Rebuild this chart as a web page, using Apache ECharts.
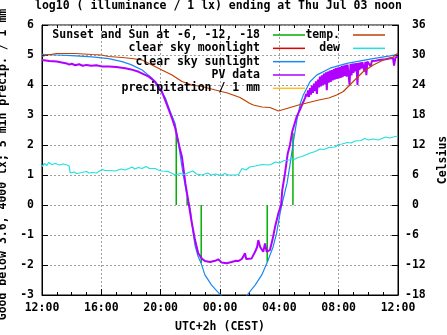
<!DOCTYPE html>
<html><head><meta charset="utf-8">
<script src="https://cdn.jsdelivr.net/npm/echarts@6/dist/echarts.min.js"></script>
<style>html,body{margin:0;padding:0;background:#fff}#c{width:447px;height:335px}</style>
</head><body><div id="c"></div>
<script>
// ---------- data ----------
const titleText = 'log10 ( illuminance / 1 lx) ending at Thu Jul 03 noon';
const xTickLabels = ['12:00', '16:00', '20:00', '00:00', '04:00', '08:00', '12:00'];
const leftAxisName = 'Good below 3.6, 4000 lx; 5 min precip. / 1 mm';
const rightAxisName = 'Celsius';
const xAxisName = 'UTC+2h (CEST)';

// sunset and sun at -6, -12, -18 (impulses)
const sunTimes   = ['21:03', '21:47', '22:44', '03:11', '04:11', '04:55'];
const sunHeights = [2.4, 0.25, -1.93, -1.9, 0.15, 2.4];

// clear sky moonlight (not above horizon in this window)
const moonTimes = [];
const moonValues = [];

// clear sky sunlight, log10 lx
const sunlightTimes = ['12:00','13:00','14:00','15:22','16:30','17:24','18:00','18:45','19:25','19:52','20:19','20:39','20:59','21:13','21:26','21:37','21:47','22:00','22:10','22:19','22:31','22:43','22:59','23:26','00:00','00:30','01:00','01:30','01:50','02:22','02:49','03:15','03:35','03:49','04:03','04:10','04:31','04:44','04:58','05:11','05:25','05:37','06:04','06:31','07:25','08:33','10:07','11:28','12:00'];
const sunlightValues = [5.02,5.00,4.98,4.94,4.88,4.78,4.68,4.50,4.23,3.89,3.57,3.11,2.70,2.00,1.28,0.75,0.28,-0.15,-0.85,-1.35,-1.70,-1.93,-2.33,-2.67,-2.98,-3.25,-3.40,-3.20,-3.00,-2.67,-2.33,-1.83,-1.39,-0.94,-0.28,0.00,0.72,1.39,2.17,2.83,3.39,3.67,4.11,4.33,4.56,4.72,4.86,4.97,5.02];

// PV data, log10 lx
const pvTimes = ['12:00','12:30','13:00','13:20','13:40','13:50','14:00','14:15','14:30','14:45','15:00','15:20','15:40','16:00','16:30','17:00','17:37','18:00','18:31','19:12','19:38','20:05','20:26','20:46','20:59','21:19','21:26','21:40','21:53','22:05','22:19','22:32','22:46','22:59','23:20','23:40','23:53','00:07','00:27','00:47','01:05','01:14','01:28','01:34','01:41','01:46','01:52','02:08','02:22','02:30','02:35','02:42','02:55','03:02','03:09','03:22','03:32','03:43','03:56','04:07','04:12','04:23','04:34','04:43','04:52','05:10','05:23','05:35','05:44',
 '05:48','05:52','05:56','06:00','06:04','06:08','06:12','06:16','06:20','06:24','06:28','06:32','06:36','06:40','06:44','06:48','06:52','06:56','07:00','07:04','07:08','07:12','07:16','07:20','07:24','07:28','07:32','07:36','07:40','07:44','07:48','07:52','07:56','08:00','08:04','08:08','08:12','08:16','08:20','08:24','08:28','08:32','08:36','08:40','08:44','08:48','08:52','08:56','09:00','09:04','09:08','09:12','09:16','09:20','09:24','09:28','09:32','09:36','09:40','09:44','09:48','09:52','09:56','10:00','10:10','10:14','10:30','10:50','11:10','11:30','11:40','11:44','11:50','12:00'];
const pvValues = [4.83,4.80,4.78,4.75,4.72,4.68,4.71,4.66,4.69,4.64,4.67,4.64,4.66,4.62,4.62,4.60,4.56,4.52,4.44,4.28,4.11,3.78,3.33,2.89,2.56,1.83,1.61,0.72,0.07,-0.55,-1.17,-1.61,-1.78,-1.87,-1.90,-1.86,-1.81,-1.92,-1.94,-1.90,-1.86,-1.87,-1.80,-1.72,-1.61,-1.80,-1.86,-1.78,-1.56,-1.40,-1.17,-1.39,-1.56,-1.28,-1.56,-1.50,-1.17,-0.72,-0.28,0.00,0.50,1.06,1.72,2.00,2.44,2.94,3.17,3.40,3.56,
 3.70,3.62,3.82,3.60,3.90,3.68,3.98,3.74,4.05,3.80,4.12,3.70,4.18,3.92,4.28,3.95,4.32,4.00,4.38,4.02,4.42,3.83,4.45,4.08,4.48,4.10,4.50,4.15,4.53,4.18,4.56,4.20,4.58,4.22,4.60,4.24,4.63,4.26,4.65,4.30,4.67,4.28,4.68,4.35,4.00,4.70,4.32,4.71,4.40,4.72,4.45,4.73,4.00,4.74,4.50,4.75,4.55,4.76,4.76,4.45,4.77,4.33,4.78,4.78,4.62,4.80,4.81,4.84,4.86,4.89,4.90,4.65,4.92,4.94];

// precipitation / 1 mm
const precipTimes = ['12:00', '12:00'];
const precipValues = [0, 0];

// temperature, Celsius
const tempTimes = ['12:00','12:20','13:00','14:15','15:22','16:00','16:30','17:24','18:04','18:45','19:25','20:05','20:46','21:26','22:07','22:47','23:41','00:30','01:21','02:01','02:15','02:50','03:22','03:56','04:30','05:18','05:59','06:39','07:20','07:52','08:19','08:59','09:40','10:20','11:01','11:41','12:00'];
const tempValues = [29.7,30.0,30.3,30.3,30.1,30.0,29.7,29.5,29.3,29.0,28.0,27.0,26.0,24.7,24.0,23.7,23.0,22.4,21.5,20.3,20.0,19.6,19.5,18.8,19.3,20.0,20.5,21.0,21.4,22.0,22.7,24.7,26.7,28.0,29.0,29.6,30.4];

// dew point, Celsius
const dewTimes = ['12:00','12:10','12:20','12:27','12:40','12:54','13:10','13:25','13:41','13:50','13:54','14:10','14:20','14:42','15:00','15:10','15:22','15:40','16:03','16:15','16:30','16:57','17:20','17:35','17:51','18:05','18:15','18:30','18:45','19:00','19:15','19:38','19:50','20:05','20:30','20:59','21:20','21:35','21:53','22:10','22:25','22:47','23:10','23:25','23:41','00:05','00:20','00:35','01:02','01:15','01:29','01:45','02:00','02:23','02:50','03:17','03:30','03:44','04:00','04:20','04:38','05:00','05:15','05:31','05:50','06:05','06:25','06:45','07:00','07:20','07:45','08:00','08:14','08:35','08:50','09:07','09:30','09:45','10:01','10:20','10:40','10:55','11:10','11:25','11:49','12:00'];
const dewValues = [7.7,8.3,7.9,8.5,8.1,8.3,8.0,8.2,8.0,7.8,6.4,6.6,6.3,6.5,6.7,6.4,6.5,6.4,7.1,6.9,6.9,6.8,7.2,7.0,7.3,7.6,7.2,7.5,7.3,7.7,7.3,7.3,7.0,6.8,6.7,6.0,6.3,6.1,6.5,6.8,6.2,6.0,6.4,6.0,6.2,5.9,6.3,6.0,6.0,6.1,7.3,7.0,7.6,7.8,8.1,8.0,8.2,8.6,8.4,8.9,9.0,9.1,9.5,9.7,10.1,10.4,10.7,11.2,11.1,11.5,11.6,12.1,12.2,12.5,12.4,12.8,12.9,13.3,13.0,13.2,13.0,13.3,13.6,13.4,13.7,13.8];

// ---------- helpers ----------
// hours since 12:00 of the first day; keeps each list increasing
function toHours(times) {
  const out = [];
  let prev = -1;
  times.forEach(function (t, i) {
    const p = t.split(':');
    let h = +p[0] + (+p[1]) / 60 - 12;
    if (h < 0) h += 24;
    if (i > 0 && h < prev) h += 24;
    out.push(h);
    prev = h;
  });
  return out;
}
function pairs(times, values) {
  const hs = toHours(times);
  return hs.map(function (h, i) { return [h, values[i]]; });
}

const FONT = 'DejaVu Sans Mono';
const txt = { fontFamily: FONT, fontWeight: 'bold', fontSize: 11.5, color: '#000' };
const gridLine = { show: true, lineStyle: { color: '#a0a0a0', width: 1, type: [2, 2] } };
const blackLine = { show: true, onZero: false, lineStyle: { color: '#000', width: 1 } };

const chart = echarts.init(document.getElementById('c'), null, { renderer: 'canvas' });
chart.setOption({
  animation: false,
  backgroundColor: '#fff',
  title: {
    text: titleText, left: 35, top: 0, padding: 0,
    textStyle: Object.assign({}, txt, { lineHeight: 13 })
  },
  legend: [
    {
      orient: 'vertical', align: 'right', right: 142, top: 28.5, padding: 0,
      itemWidth: 32, itemHeight: 1.5, itemGap: 0.33, icon: 'rect', selectedMode: false,
      textStyle: Object.assign({}, txt, { lineHeight: 13, padding: [0, 8, 0, 0] }),
      data: ['Sunset and Sun at -6, -12, -18', 'clear sky moonlight', 'clear sky sunlight', 'PV data', 'precipitation / 1 mm']
    },
    {
      orient: 'vertical', align: 'right', right: 62, top: 28.5, padding: 0,
      itemWidth: 32, itemHeight: 1.5, itemGap: 0.33, icon: 'rect', selectedMode: false,
      textStyle: Object.assign({}, txt, { lineHeight: 13, padding: [0, 8, 0, 0] }),
      data: ['temp.', 'dew']
    }
  ],
  grid: { left: 42, right: 49, top: 25, bottom: 40, show: true, borderColor: '#000', borderWidth: 1, containLabel: false, outerBoundsMode: 'none' },
  xAxis: [
    {
      type: 'value', min: 0, max: 24, interval: 4, position: 'bottom',
      axisLine: blackLine,
      axisTick: { show: true, inside: true, length: 6, lineStyle: { color: '#000' } },
      minorTick: { show: true, splitNumber: 4, length: 3, lineStyle: { color: '#000' } },
      axisLabel: Object.assign({}, txt, { margin: 7, formatter: function (v) { return xTickLabels[Math.round(v / 4)]; } }),
      splitLine: gridLine,
      name: xAxisName, nameLocation: 'middle', nameGap: 26, nameTextStyle: txt
    },
    {
      type: 'value', min: 0, max: 24, interval: 4, position: 'top',
      axisLine: { show: false, onZero: false },
      axisTick: { show: true, inside: true, length: 6, lineStyle: { color: '#000' } },
      minorTick: { show: true, splitNumber: 4, length: 3, lineStyle: { color: '#000' } },
      axisLabel: { show: false }, splitLine: { show: false }
    }
  ],
  yAxis: [
    {
      type: 'value', min: -3, max: 6, interval: 1, position: 'left',
      axisLine: blackLine,
      axisTick: { show: true, inside: true, length: 6, lineStyle: { color: '#000' } },
      axisLabel: Object.assign({}, txt, { margin: 8 }),
      splitLine: gridLine,
      name: leftAxisName, nameLocation: 'middle', nameRotate: 90, nameGap: 29,
      nameTextStyle: Object.assign({}, txt, { padding: [0, 9, 0, 0] })
    },
    {
      type: 'value', min: -18, max: 36, interval: 6, position: 'right',
      axisLine: blackLine,
      axisTick: { show: true, inside: true, length: 6, lineStyle: { color: '#000' } },
      axisLabel: Object.assign({}, txt, { margin: 7, align: 'left', formatter: function (v) { return v < 0 ? String(v) : ' ' + v; } }),
      splitLine: { show: false },
      name: rightAxisName, nameLocation: 'middle', nameRotate: 90, nameGap: 35, nameTextStyle: txt
    }
  ],
  series: [
    {
      name: 'Sunset and Sun at -6, -12, -18', type: 'bar', xAxisIndex: 0, yAxisIndex: 0,
      barWidth: 1.5, color: '#00b000', itemStyle: { color: '#00b000' },
      data: pairs(sunTimes, sunHeights)
    },
    {
      name: 'clear sky moonlight', type: 'line', showSymbol: false, color: '#e00000',
      lineStyle: { width: 1, color: '#e00000' }, data: pairs(moonTimes, moonValues)
    },
    {
      name: 'clear sky sunlight', type: 'line', showSymbol: false, color: '#1a88f0', clip: true,
      lineStyle: { width: 1.2, color: '#1a88f0' }, data: pairs(sunlightTimes, sunlightValues)
    },
    {
      name: 'PV data', type: 'line', showSymbol: false, color: '#b000ff',
      lineStyle: { width: 2, color: '#b000ff' }, data: pairs(pvTimes, pvValues)
    },
    {
      name: 'precipitation / 1 mm', type: 'line', showSymbol: false, color: '#ffc020',
      lineStyle: { width: 1.5, color: '#ffc020' }, data: pairs(precipTimes, precipValues)
    },
    {
      name: 'temp.', type: 'line', showSymbol: false, color: '#c04000', yAxisIndex: 1,
      lineStyle: { width: 1.2, color: '#c04000' }, data: pairs(tempTimes, tempValues)
    },
    {
      name: 'dew', type: 'line', showSymbol: false, color: '#20e0e0', yAxisIndex: 1,
      lineStyle: { width: 1.2, color: '#20e0e0' }, data: pairs(dewTimes, dewValues)
    }
  ]
});
</script></body></html>
